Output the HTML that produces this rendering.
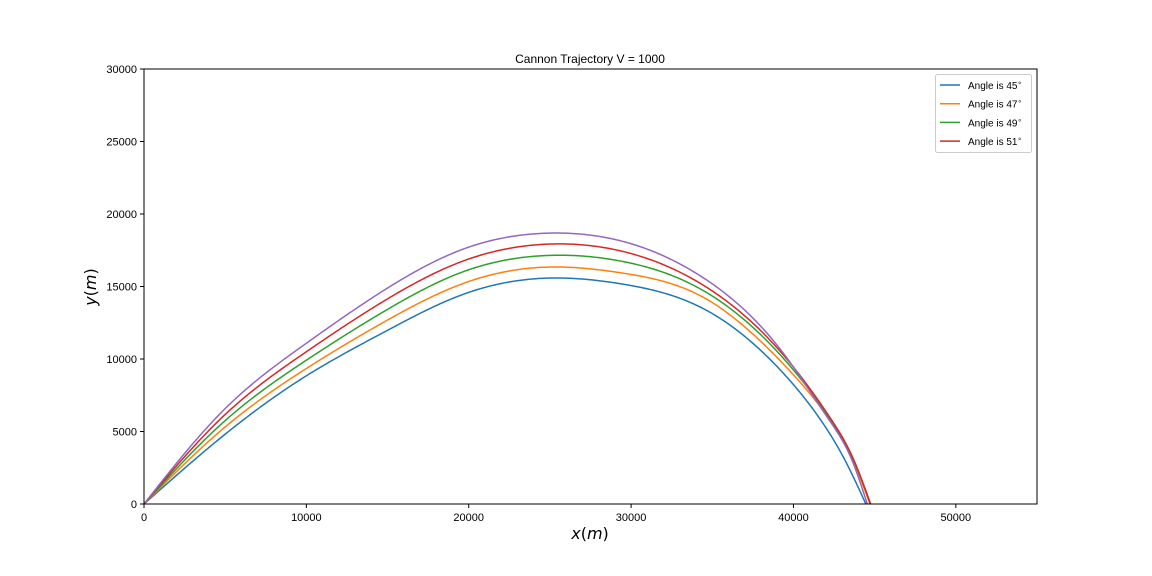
<!DOCTYPE html>
<html><head><meta charset="utf-8"><style>
body{margin:0;background:#fff;}
svg{display:block;font-family:"Liberation Sans","DejaVu Sans",sans-serif;}
</style></head><body>
<svg id="chart" width="1152" height="576" viewBox="0 0 1152 576" xmlns="http://www.w3.org/2000/svg">
<rect width="1152" height="576" fill="#fff"/>
<text x="590" y="63" font-size="12" text-anchor="middle" fill="#000">Cannon Trajectory V = 1000</text>
<g id="plot"></g>
<rect x="144" y="69" width="893" height="435" fill="none" stroke="#000" stroke-width="1"/>
<g id="ticks"></g>
<text x="590" y="539" font-size="16" text-anchor="middle" font-family="DejaVu Sans, sans-serif"><tspan font-style="italic">x</tspan>(<tspan font-style="italic">m</tspan>)</text>
<text transform="translate(96,287) rotate(-90)" font-size="16" text-anchor="middle" font-family="DejaVu Sans, sans-serif"><tspan font-style="italic">y</tspan>(<tspan font-style="italic">m</tspan>)</text>
<g id="legend"></g>
</svg>
<script>
const xTicks=[0,10000,20000,30000,40000,50000];
const yTicks=[0,5000,10000,15000,20000,25000,30000];
const seriesNames=["Angle is 45","Angle is 47","Angle is 49","Angle is 51",""];
const colors=["#1f77b4","#ff7f0e","#2ca02c","#d62728","#9467bd"];
const x45=[0,4927,9854,14781,19708,24635,29562,34489,39416,41680,43170,44460];
const y45=[0,4750,8740,11850,14480,15570,15150,13450,8970,5790,3030,0];
const x47=[0,4927,9854,14781,19708,24635,29562,34489,39416,42250,43660,44710];
const y47=[0,5250,9240,12550,15230,16330,15910,14230,9610,5790,3030,0];
const x49=[0,4927,9854,14781,19708,24635,29562,34489,39416,42300,43700,44760];
const y49=[0,5680,9810,13280,16040,17130,16710,14690,10000,5790,3030,0];
const x51=[0,4927,9854,14781,19708,24635,29562,34489,39416,42350,43720,44740];
const y51=[0,6100,10390,14000,16780,17910,17400,15060,10230,5790,3030,0];
const x53=[0,4927,9854,14781,19708,24635,29562,34489,39416,42200,43600,44550];
const y53=[0,6500,10970,14740,17600,18670,18090,15570,10340,5790,3030,0];
const allX=[x45,x47,x49,x51,x53], allY=[y45,y47,y49,y51,y53];
const NS="http://www.w3.org/2000/svg";
const X=v=>144+v*893/55000, Y=v=>504-v*435/30000;
function mk(t,a,p){const e=document.createElementNS(NS,t);for(const k in a)e.setAttribute(k,a[k]);p.appendChild(e);return e;}
const ticks=document.getElementById('ticks');
xTicks.forEach(v=>{
 const l=mk('line',{x1:X(v),x2:X(v),y1:504,y2:508,stroke:'#000'},ticks);
 
 
 const t=mk('text',{x:X(v),y:521,'font-size':11,'text-anchor':'middle'},ticks);t.textContent=v;
 
 
});
yTicks.forEach(v=>{
 const l=mk('line',{x1:140,x2:144,y1:Y(v),y2:Y(v),stroke:'#000'},ticks);
 
 
 const t=mk('text',{x:137,y:Y(v)+4,'font-size':11,'text-anchor':'end'},ticks);t.textContent=v;
 
 
});
const plot=document.getElementById('plot');
function naturalSpline(xs,ys){
 const n=xs.length,h=[],a=[],l=[1],mu=[0],z=[0],c=new Array(n).fill(0),b=[],d=[];
 for(let i=0;i<n-1;i++)h.push(xs[i+1]-xs[i]);
 for(let i=1;i<n-1;i++)a[i]=3/h[i]*(ys[i+1]-ys[i])-3/h[i-1]*(ys[i]-ys[i-1]);
 for(let i=1;i<n-1;i++){l[i]=2*(xs[i+1]-xs[i-1])-h[i-1]*mu[i-1];mu[i]=h[i]/l[i];z[i]=(a[i]-h[i-1]*z[i-1])/l[i];}
 for(let j=n-2;j>=0;j--){c[j]=(j>0?z[j]:0)-mu[j]*c[j+1];b[j]=(ys[j+1]-ys[j])/h[j]-h[j]*(c[j+1]+2*c[j])/3;d[j]=(c[j+1]-c[j])/(3*h[j]);}
 let p='';
 for(let i=0;i<n-1;i++){
  for(let k=0;k<=40;k++){
   if(i>0&&k===0)continue;
   const t=h[i]*k/40;
   const v=ys[i]+b[i]*t+c[i]*t*t+d[i]*t*t*t;
   p+=(p?'L':'M')+X(xs[i]+t).toFixed(2)+','+Y(Math.max(0,v)).toFixed(2);
  }
 }
 return p;
}
allX.forEach((xs,i)=>{
 const p=mk('path',{d:naturalSpline(xs,allY[i]),fill:'none',stroke:colors[i],'stroke-width':1.5,'stroke-linejoin':'round'},plot);
 
 
});
const lg=document.getElementById('legend');
const box=mk('rect',{x:935.5,y:74.5,width:96,height:78,rx:2,fill:'#fff','fill-opacity':0.8,stroke:'#ccc'},lg);


for(let i=0;i<4;i++){
 const yy=85+i*18.7;
 const l=mk('line',{x1:940,x2:960,y1:yy,y2:yy,stroke:colors[i],'stroke-width':1.5},lg);
 
 
 const t=mk('text',{x:968,y:yy+4,'font-size':10},lg);
 
 
 t.textContent=seriesNames[i];
 const s=mk('tspan',{dy:-4,'font-size':7},t);s.textContent='∘';
}
</script>
</body></html>
